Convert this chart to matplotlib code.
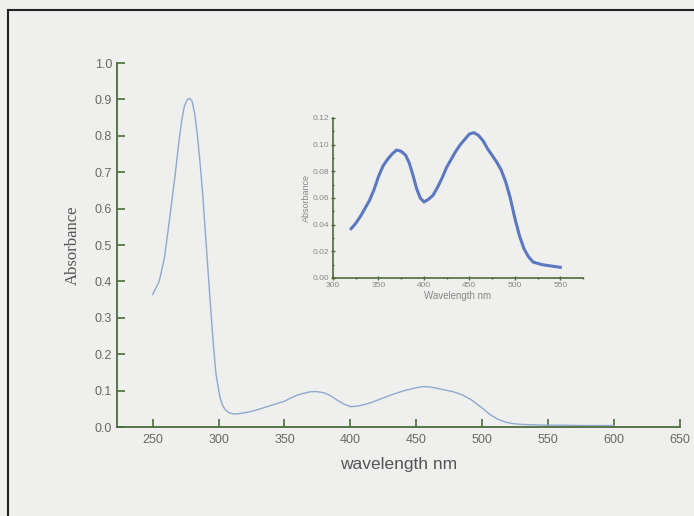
import numpy as np
import matplotlib.pyplot as plt
from matplotlib.patches import Rectangle
from matplotlib.ticker import MultipleLocator

# main spectrum
wl = [250, 252, 255, 259, 263, 267, 270, 272, 274, 276, 278, 280, 282, 284, 286, 288, 291,
      293, 296, 298, 301, 303, 305, 308, 311, 314, 318, 324, 330, 337, 344, 350, 355, 360,
      365, 370, 375, 380, 385, 390, 395, 400, 405, 410, 415, 420, 430, 440, 450, 455, 460,
      465, 470, 478, 485, 492, 500, 506, 512, 518, 524, 530, 540, 550, 560, 575, 590, 600]
absb = [0.364, 0.378, 0.40, 0.465, 0.575, 0.690, 0.785, 0.840, 0.880, 0.898, 0.903, 0.895,
        0.860, 0.800, 0.725, 0.640, 0.483, 0.380, 0.230, 0.148, 0.083, 0.060, 0.048, 0.039,
        0.036, 0.036, 0.038, 0.042, 0.048, 0.056, 0.064, 0.071, 0.080, 0.088, 0.093, 0.097,
        0.097, 0.094, 0.086, 0.074, 0.063, 0.056, 0.057, 0.061, 0.066, 0.073, 0.087, 0.099,
        0.108, 0.111, 0.110, 0.107, 0.103, 0.097, 0.088, 0.074, 0.052, 0.034, 0.021, 0.013,
        0.009, 0.007, 0.006, 0.005, 0.005, 0.004, 0.004, 0.004]

# inset (zoom of the visible band)
wl_in = [320, 325, 330, 335, 340, 345, 350, 355, 360, 365, 370, 375, 380, 384, 388, 392,
         396, 400, 405, 410, 415, 420, 425, 430, 435, 440, 445, 450, 455, 460, 465, 470,
         475, 480, 485, 490, 495, 500, 505, 510, 515, 520, 525, 530, 540, 550]
abs_in = [0.037, 0.041, 0.046, 0.052, 0.058, 0.066, 0.076, 0.084, 0.089, 0.093, 0.096,
          0.095, 0.092, 0.086, 0.077, 0.067, 0.060, 0.057, 0.059, 0.062, 0.068, 0.075,
          0.083, 0.089, 0.095, 0.100, 0.104, 0.108, 0.109, 0.107, 0.103, 0.097, 0.092,
          0.087, 0.081, 0.072, 0.060, 0.045, 0.032, 0.022, 0.016, 0.012, 0.011, 0.010,
          0.009, 0.008]

spine_col = '#4e6b3c'
lab_col = '#666b60'
bg = '#efefed'

fig = plt.figure(figsize=(6.94, 5.16), dpi=100, facecolor=bg)
fig.patches.append(Rectangle((8/694, -0.02), 1.0, 1 - 10/516 + 0.02, transform=fig.transFigure,
                             fill=False, edgecolor='#222222', linewidth=1.5))

ax = fig.add_axes([117/694, 1 - 427/516, (680 - 117)/694, (427 - 63)/516])
ax.set_facecolor(bg)
ax.plot(wl, absb, color='#8fa9cf', linewidth=1.0)
ax.set_xlim(223, 650)
ax.set_ylim(0, 1.0)
ax.set_xticks(np.arange(250, 651, 50))
ax.yaxis.set_major_locator(MultipleLocator(0.1))
ax.yaxis.set_major_formatter(plt.FormatStrFormatter('%.1f'))
for s in ['top', 'right']:
    ax.spines[s].set_visible(False)
for s in ['left', 'bottom']:
    ax.spines[s].set_color(spine_col)
    ax.spines[s].set_linewidth(1.3)
ax.tick_params(direction='in', length=6, width=1.2, color=spine_col, labelcolor=lab_col,
               labelsize=9, labelfontfamily='Liberation Sans')
ax.tick_params(axis='x', pad=5)
ax.set_xlabel('wavelength nm', fontsize=12.5, color='#555555', family='Liberation Sans',
              labelpad=8)
ax.set_ylabel('Absorbance', fontsize=12, color='#555555', family='Liberation Serif',
              labelpad=10)

# inset
ins = fig.add_axes([333/694, 1 - 278/516, (583 - 333)/694, (278 - 118)/516])
ins.set_facecolor(bg)
ins.plot(wl_in, abs_in, color='#5b78c0', linewidth=2.2)
ins.set_xlim(300, 575)
ins.set_ylim(0, 0.12)
ins.set_xticks(np.arange(300, 551, 50))
ins.xaxis.set_minor_locator(MultipleLocator(25))
ins.yaxis.set_major_locator(MultipleLocator(0.02))
ins.yaxis.set_minor_locator(MultipleLocator(0.01))
ins.yaxis.set_major_formatter(plt.FormatStrFormatter('%.2f'))
for s in ['top', 'right']:
    ins.spines[s].set_visible(False)
for s in ['left', 'bottom']:
    ins.spines[s].set_color(spine_col)
    ins.spines[s].set_linewidth(1.2)
ins.tick_params(which='both', direction='inout', length=3, width=1, color=spine_col,
                labelcolor='#888888', labelsize=6, labelfontfamily='Liberation Sans', pad=1.5)
ins.tick_params(which='minor', length=2)
ins.set_xlabel('Wavelength nm', fontsize=7, color='#888888', family='Liberation Sans',
               labelpad=1)
ins.set_ylabel('Absorbance', fontsize=6.5, color='#888888', family='Liberation Sans',
               labelpad=1)

fig.savefig('out.png', dpi=100, facecolor=bg)
